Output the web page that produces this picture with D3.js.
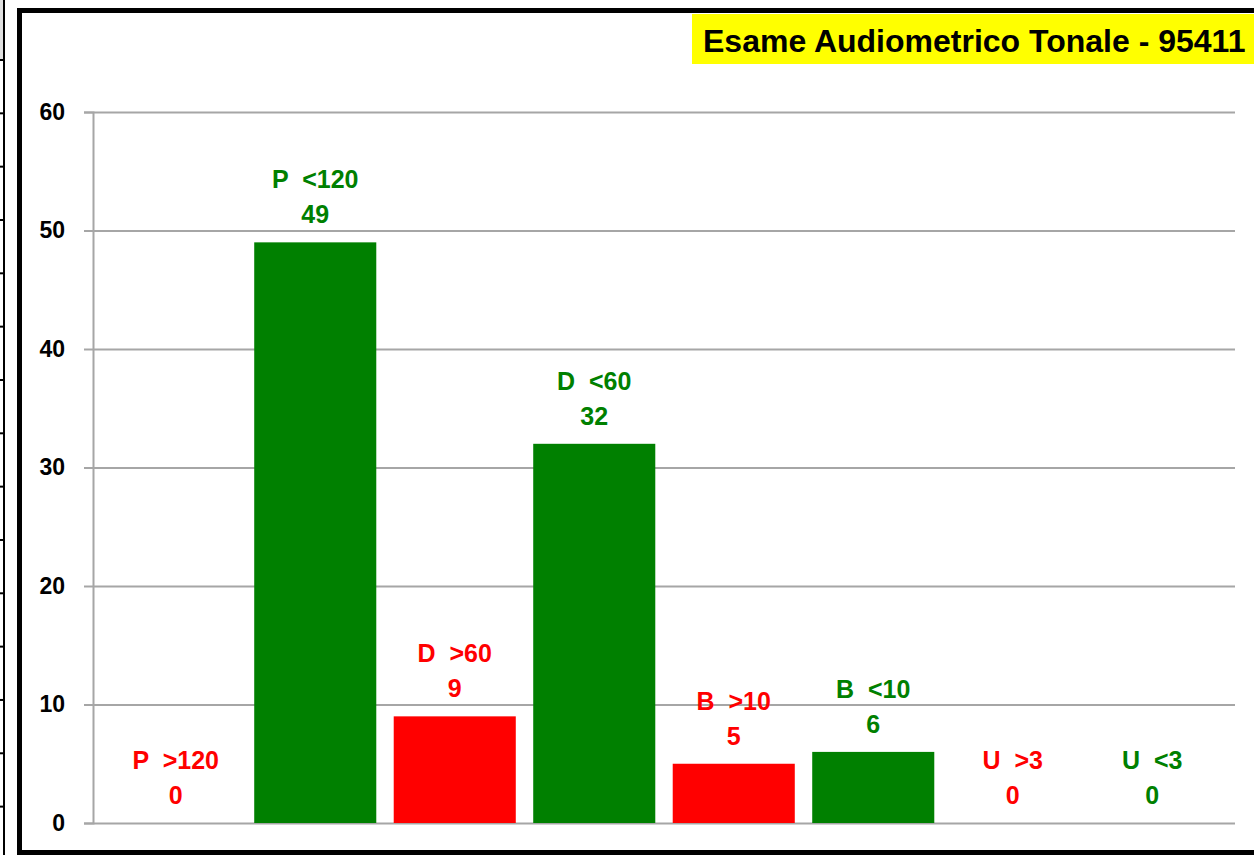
<!DOCTYPE html>
<html>
<head>
<meta charset="utf-8">
<script src="https://cdn.jsdelivr.net/npm/d3@7"></script>
<style>
  body { margin: 0; background: #fff; overflow: hidden; }
  svg { display: block; font-family: "Liberation Sans", Arial, sans-serif; }
</style>
</head>
<body>
<script>
// chart values
var categories = ["P  >120", "P  <120", "D  >60", "D  <60", "B  >10", "B  <10", "U  >3", "U  <3"];
var values = [0, 49, 9, 32, 5, 6, 0, 0];
var outOfRange = [true, false, true, false, true, false, true, false]; // red when true
var yTicks = [0, 10, 20, 30, 40, 50, 60];
var title = "Esame Audiometrico Tonale - 95411";

var _width = 1254, _height = 855,
    _red = "#ff0000", _green = "#008000", _grid = "#a6a6a6";

var svg = d3.select("body").append("svg")
    .attr("width", _width)
    .attr("height", _height);

// bit of the spreadsheet showing at the left edge
var rows = d3.range(60, 855, 53.33);
svg.append("rect").attr("x", 0).attr("y", 0).attr("width", 4).attr("height", 60).attr("fill", "#e0e0e0");
svg.append("line").attr("x1", 4).attr("x2", 4).attr("y1", 0).attr("y2", _height)
    .attr("stroke", "#000").attr("stroke-width", 2);
svg.selectAll("line.row").data(rows).enter().append("line")
    .attr("class", "row")
    .attr("x1", 0).attr("x2", 5)
    .attr("y1", function(d) { return d; }).attr("y2", function(d) { return d; })
    .attr("stroke", "#000").attr("stroke-width", 2);

// chart frame
svg.append("rect")
    .attr("x", 19.5).attr("y", 10.5)
    .attr("width", 1300).attr("height", 842)
    .attr("fill", "#fff")
    .attr("stroke", "#000").attr("stroke-width", 5);

var x = d3.scaleBand()
    .domain(categories)
    .range([106, 1222])
    .paddingInner(0.125)
    .paddingOuter(0.0625);

var y = d3.scaleLinear()
    .domain([0, 60])
    .range([823, 112]);

// gridlines
svg.append("g")
    .attr("transform", "translate(93,0)")
    .call(d3.axisLeft(y).tickValues(yTicks).tickSize(-(1235 - 93)).tickFormat(""))
    .call(function(g) {
      g.select(".domain").remove();
      g.selectAll("line").attr("stroke", _grid).attr("stroke-width", 2);
    });

// y axis
svg.append("g")
    .attr("transform", "translate(93,0)")
    .call(d3.axisLeft(y).tickValues(yTicks).tickSize(9).tickPadding(19))
    .call(function(g) {
      g.select(".domain").attr("stroke", _grid).attr("stroke-width", 2);
      g.selectAll("line").attr("stroke", _grid).attr("stroke-width", 2);
      g.selectAll("text")
        .attr("fill", "#000")
        .attr("font-size", "23px")
        .attr("font-weight", "bold")
        .attr("font-family", "Liberation Sans, Arial, sans-serif");
    });

// bars
svg.append("g").selectAll("rect")
    .data(values)
    .enter().append("rect")
      .attr("x", function(d, i) { return x(categories[i]); })
      .attr("y", function(d) { return y(d); })
      .attr("width", x.bandwidth())
      .attr("height", function(d) { return y(0) - y(d); })
      .attr("fill", function(d, i) { return outOfRange[i] ? _red : _green; });

// labels above the bars
var labels = svg.append("g").selectAll("g")
    .data(values)
    .enter().append("g")
      .attr("transform", function(d, i) {
        return "translate(" + (x(categories[i]) + x.bandwidth() / 2) + "," + y(d) + ")";
      })
      .attr("fill", function(d, i) { return outOfRange[i] ? _red : _green; })
      .attr("font-size", "25px")
      .attr("font-weight", "bold")
      .attr("text-anchor", "middle");

labels.append("text")
    .attr("y", -54)
    .style("white-space", "pre")
    .text(function(d, i) { return categories[i]; });

labels.append("text")
    .attr("y", -19)
    .text(function(d) { return d; });

// title box
svg.append("rect")
    .attr("x", 692).attr("y", 14)
    .attr("width", 600).attr("height", 50)
    .attr("fill", "#ffff00");

svg.append("text")
    .attr("x", 703).attr("y", 52)
    .attr("font-size", "32px")
    .attr("font-weight", "bold")
    .attr("fill", "#000")
    .text(title);
</script>
</body>
</html>
